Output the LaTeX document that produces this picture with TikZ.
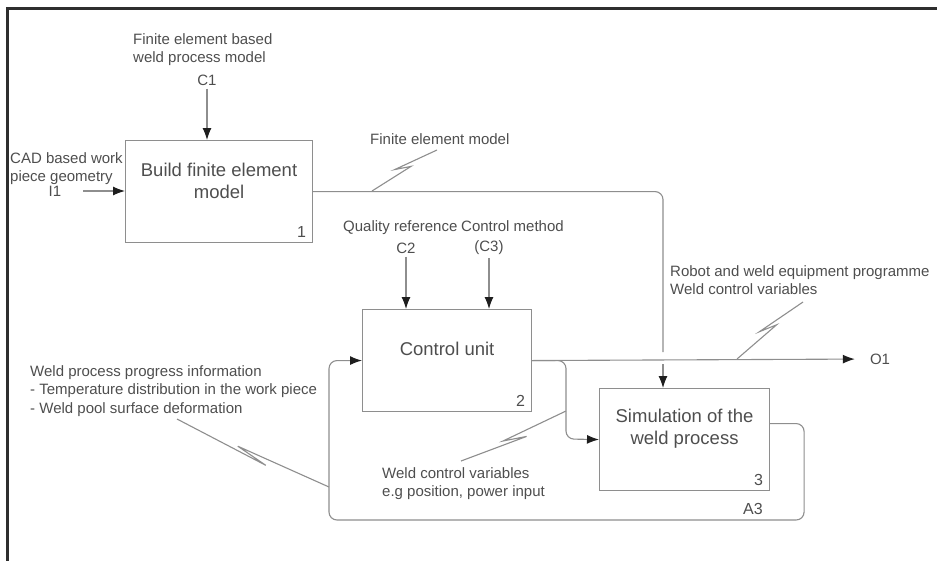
\documentclass[tikz,border=0pt]{standalone}
\usepackage{fontspec}
\setmainfont{Liberation Sans}
\usetikzlibrary{arrows.meta,calc}
\definecolor{ink}{HTML}{4E4E4E}
\definecolor{wire}{HTML}{8E8E8E}
\definecolor{tipc}{HTML}{1E1E1E}
\definecolor{edge}{HTML}{2E2E2E}
\tikzset{
  box/.style={draw=wire,line width=1.1pt,anchor=north west,minimum height=102pt,inner sep=0pt},
  boxtxt/.style={align=center,text=ink,font=\fontsize{18.5}{22}\selectfont},
  lbl/.style={align=left,text=ink,inner sep=0pt,font=\fontsize{15}{18.5}\selectfont},
  num/.style={text=ink,inner sep=0pt,font=\fontsize{16}{18}\selectfont},
  ln/.style={draw=wire,line width=1.1pt},
  ar/.style={ln,-{Latex[length=12pt,width=9pt,color=tipc]}},
  frm/.style={draw=edge,line width=3pt},
}
% IDEF0 squiggle between a wire point and its label
\newcommand{\bolt}[2]{%
  \draw[ln] (#1) -- ($(#1)!.6!(#2)$) -- ($(#1)!.4!(#2)!6pt!90:(#2)$) -- (#2);}

\begin{document}
\begin{tikzpicture}[x=1pt,y=-1pt]
  \useasboundingbox (0,0) rectangle (937,560);
  \draw[frm] (7,562) |- (939,8);

  % activity boxes
  \node[box,minimum width=187pt] (b1) at (125,140) {};
  \node[box,minimum width=169pt] (b2) at (362,309) {};
  \node[box,minimum width=170pt] (b3) at (599,388) {};
  \node[boxtxt] at ([yshift=11pt]b1.center) {Build finite element\\model};
  \node[boxtxt] at ([yshift=12pt]b2.center) {Control unit};
  \node[boxtxt] at ([yshift=11pt]b3.center) {Simulation of the\\weld process};
  \foreach \b/\n in {b1/1,b2/2,b3/3}
    \node[num,anchor=base east] at ([shift={(-7pt,6pt)}]\b.south east) {\n};
  \node[num,anchor=base east] (a3) at (763,514) {A3};

  % inputs and controls
  \node[lbl,anchor=north west] (cfe) at (133,33) {Finite element based\\weld process model};
  \node[lbl] (c1) at (207,80) {C1};
  \draw[ar] ([yshift=-3pt]c1.south) -- (c1 |- b1.north);
  \node[lbl,anchor=north west] (cad) at (10,152) {CAD based work\\piece geometry};
  \node[lbl] (i1) at (55,191) {I1};
  \draw[ar] ([xshift=22pt]i1.east) -- (i1 -| b1.west);
  \node[lbl,anchor=north west] (qref) at (343,220) {Quality reference};
  \node[lbl,anchor=north west] (cmeth) at (461,220) {Control method};
  \node[lbl] (c2) at (406,248) {C2};
  \node[lbl] (c3) at (489,248) {(C3)};
  \draw[ar] ([yshift=-3pt]c2.south) -- (c2 |- b2.north);
  \draw[ar] ([yshift=-3pt]c3.south) -- (c3 |- b2.north);

  % finite element model into the simulation
  \coordinate (gap1) at (663,352);
  \coordinate (gap2) at (663,364);
  \draw[ln,rounded corners=8pt] (b1.east) -| (gap1);
  \draw[ar] (gap2) -- (gap2 |- b3.north);
  \node[lbl,anchor=north west] (fem) at (370,133) {Finite element model};
  \coordinate (s1a) at (372,191);
  \coordinate (s1b) at (437,150);
  \bolt{s1a}{s1b}

  % control unit outputs
  \node[lbl] (o1) at (880,359) {O1};
  \draw[ar,shorten >=15pt] (b2.east) -- (o1.west);
  \coordinate (br) at (566,439);
  \draw[ar,rounded corners=8pt] (b2.east) -| (br) -- (b3.west);
  \node[lbl,anchor=north west] (robot) at (670,265) {Robot and weld equipment programme\\Weld control variables};
  \coordinate (s2a) at (737,359);
  \coordinate (s2b) at (803,302);
  \bolt{s2a}{s2b}
  \node[lbl,anchor=north west] (wcv) at (382,467) {Weld control variables\\e.g position, power input};
  \coordinate (s4a) at (566,411);
  \coordinate (s4b) at (461,461);
  \bolt{s4a}{s4b}

  % feedback loop
  \draw[ar,rounded corners=8pt] ([yshift=16pt]b3.east) -- ++(34,0) |- (329,520) |- (b2.west);
  \node[lbl,anchor=north west] (fb) at (30,365) {Weld process progress information\\- Temperature distribution in the work piece\\- Weld pool surface deformation};
  \coordinate (s3a) at (329,487);
  \coordinate (s3b) at (177,419);
  \bolt{s3a}{s3b}
\end{tikzpicture}
\end{document}
